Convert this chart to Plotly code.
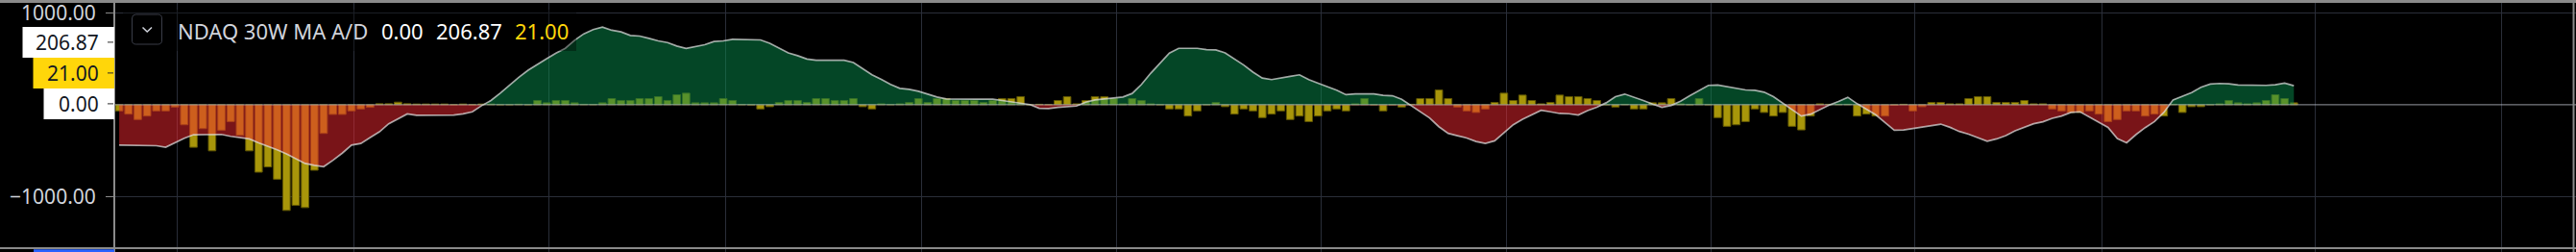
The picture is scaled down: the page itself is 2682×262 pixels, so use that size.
import plotly.graph_objects as go

# ---------------- data ----------------
week_index = list(range(235))

ad_values = [
    -67, -102, -161, -123, -67, -67, -25, -218, -463, -260,
    -502, -277, -183, -333, -502, -734, -677, -811, -1151, -1095,
    -1120, -713, -312, -105, -105, -67, -46, -28, 11, 11,
    28, 11, 8, 8, 8, 8, 0, 8, 0, 8,
    8, 0, 0, 6, 0, 46, 21, 46, 46, 21,
    5, 3, 21, 67, 46, 46, 67, 67, 88, 46,
    109, 126, 21, 21, 21, 67, 46, 2, -2, -46,
    -21, 25, 46, 46, 25, 67, 67, 46, 46, 67,
    -21, -46, 10, 2, 10, 25, 67, 25, 67, 67,
    46, 46, 46, 25, 46, 67, 67, 88, 0, 5,
    0, 46, 88, 10, 46, 88, 88, 67, 10, 67,
    46, 10, 0, -46, -46, -123, -67, 0, 25, -21,
    -102, -46, -67, -140, -102, -67, -161, -123, -183, -123,
    -67, -46, -67, 10, 67, 0, -67, 0, -25, 5,
    67, 67, 161, 67, -25, -67, -84, -46, 25, 126,
    46, 105, 46, 10, 25, 105, 88, 88, 67, 46,
    0, -25, 3, -46, -46, 21, 21, 67, 10, 0,
    67, 0, -140, -235, -218, -183, -46, -84, -123, -84,
    -235, -274, -123, 10, 5, 5, 5, -123, -102, -123,
    -123, -5, 5, -67, -21, 25, 25, 10, 10, 67,
    88, 88, 25, 25, 25, 46, 10, 10, -46, -67,
    -84, -84, -67, -102, -183, -161, -67, -67, -123, -102,
    -123, 5, -84, -21, -21, 0, 10, 46, 21, 10,
    21, 46, 109, 67, 21,
]

ma_values = [
    -439, -439, -439, -439, -446, -463, -414, -365, -326, -323,
    -323, -323, -344, -362, -372, -414, -449, -491, -534, -586,
    -639, -660, -674, -604, -527, -439, -421, -358, -295, -207,
    -154, -100, -115, -115, -115, -115, -112, -100, -77, -10,
    46, 126, 214, 298, 376, 442, 502, 562, 614, 702,
    772, 818, 846, 811, 793, 755, 748, 723, 695, 677,
    639, 614, 632, 653, 688, 695, 713, 713, 713, 706,
    670, 618, 565, 534, 498, 484, 484, 484, 484, 460,
    390, 326, 277, 221, 179, 168, 147, 116, 84, 63,
    63, 63, 63, 63, 60, 46, 32, 18, 2, -39,
    -42, -28, -21, -14, 28, 53, 63, 70, 84, 123,
    221, 344, 456, 562, 614, 614, 614, 600, 597, 565,
    502, 432, 355, 291, 274, 288, 309, 326, 274, 235,
    197, 158, 110, 119, 119, 119, 102, 98, 60, -5,
    -77, -144, -239, -312, -337, -362, -400, -421, -393, -305,
    -218, -158, -112, -60, -77, -95, -98, -112, -63, -28,
    21, 88, 116, 84, 46, 7, -28, -7, 39, 98,
    154, 211, 214, 197, 176, 161, 158, 137, 88, 18,
    -53, -123, -102, -53, -3, 35, 81, 11, -49, -109,
    -193, -277, -274, -260, -246, -228, -211, -246, -291, -320,
    -355, -397, -372, -337, -284, -246, -207, -186, -147, -123,
    -84, -77, -133, -193, -246, -369, -414, -326, -249, -183,
    -84, 53, 91, 133, 190, 225, 232, 228, 214, 211,
    211, 211, 218, 235, 206.87,
]

zero_level = 0.0
indicator_name = "NDAQ 30W MA A/D"
y_tick_values = [1000, -1000]
y_tick_text = ["1000.00", "\u22121000.00"]
grid_weeks = [6.22, 25.24, 46.26, 65.27, 86.32, 107.34, 129.38,
              149.26, 171.24, 193.22, 213.33, 236.26, 256.36]

# ---------------- styling ----------------
W, H = 2682, 262
L_MARGIN = 120
FONT = "Noto Sans"
BAR_COLOR = "rgb(168,150,10)"
BAR_EDGE = "rgb(96,86,4)"
GREEN_FILL = "rgba(8,140,76,0.5)"
RED_FILL = "rgba(242,40,48,0.5)"
MA_LINE = "rgba(225,225,225,0.72)"
GRID = "#2a2e39"
BORDER = "#8a8a8a"
TEXT = "#d1d4dc"
YELLOW = "#ffd60a"


def px2x(p):
    return (p - L_MARGIN) / (W - L_MARGIN)


def py2y(p):
    return 1 - p / H


# split MA into positive / negative fills with exact zero crossings
fx, fy = [], []
for k in range(len(ma_values)):
    if k > 0:
        a, b = ma_values[k - 1], ma_values[k]
        if (a < zero_level < b) or (a > zero_level > b):
            t = (a - zero_level) / (a - b)
            fx.append(week_index[k - 1] + t * (week_index[k] - week_index[k - 1]))
            fy.append(zero_level)
    fx.append(week_index[k])
    fy.append(ma_values[k])
pos_fill = [max(v, zero_level) for v in fy]
neg_fill = [min(v, zero_level) for v in fy]

fig = go.Figure()
fig.add_trace(go.Bar(x=week_index, y=ad_values, marker=dict(color=BAR_COLOR, line=dict(color=BAR_EDGE, width=1)),
                     hoverinfo="skip"))
fig.add_trace(go.Scatter(x=fx, y=pos_fill, mode="lines", fill="tozeroy", fillcolor=GREEN_FILL,
                         line=dict(width=0), hoverinfo="skip"))
fig.add_trace(go.Scatter(x=fx, y=neg_fill, mode="lines", fill="tozeroy", fillcolor=RED_FILL,
                         line=dict(width=0), hoverinfo="skip"))
fig.add_trace(go.Scatter(x=week_index, y=ma_values, mode="lines", line=dict(color=MA_LINE, width=1.7),
                         hoverinfo="skip"))

# axis ranges: zero at ~108.9 px, 95.5 px per 1000
zero_px = 108.9
ppu = 0.0955
y_top = zero_px / ppu
y_bot = -(H - zero_px) / ppu
bar_c0, bar_step = 124.1, 9.676
x_left = (L_MARGIN - bar_c0) / bar_step
x_right = (W - bar_c0) / bar_step

shapes = []
# zero line
shapes.append(dict(type="line", xref="paper", yref="y", x0=0, x1=1, y0=zero_level, y1=zero_level,
                   line=dict(color="rgba(200,205,215,0.75)", width=1), layer="above"))
# legend background (darkens chart under legend row)
shapes.append(dict(type="rect", xref="paper", yref="paper", x0=px2x(128), x1=px2x(600),
                   y0=py2y(53), y1=py2y(10), fillcolor="rgba(0,0,0,0.35)", line=dict(width=0), layer="above"))
# pane borders
shapes.append(dict(type="line", xref="paper", yref="paper", x0=px2x(0), x1=px2x(W), y0=py2y(1.5), y1=py2y(1.5),
                   line=dict(color=BORDER, width=3), layer="above"))
shapes.append(dict(type="line", xref="paper", yref="paper", x0=px2x(0), x1=px2x(W), y0=py2y(258), y1=py2y(258),
                   line=dict(color=BORDER, width=2), layer="above"))
shapes.append(dict(type="line", xref="paper", yref="paper", x0=px2x(2679.5), x1=px2x(2679.5), y0=0, y1=1,
                   line=dict(color=BORDER, width=2), layer="above"))
# blue label stub at bottom-left
shapes.append(dict(type="rect", xref="paper", yref="paper", x0=px2x(35), x1=px2x(119), y0=py2y(262), y1=py2y(259.2),
                   fillcolor="#2962ff", line=dict(width=0), layer="above"))

# chevron button (rounded rect)
bx0, bx1, by0, by1, r = 137.5, 168.5, 15, 46, 4
def P(px, py):
    return f"{px2x(px):.6f},{py2y(py):.6f}"
path = (f"M {P(bx0 + r, by0)} L {P(bx1 - r, by0)} Q {P(bx1, by0)} {P(bx1, by0 + r)} "
        f"L {P(bx1, by1 - r)} Q {P(bx1, by1)} {P(bx1 - r, by1)} L {P(bx0 + r, by1)} "
        f"Q {P(bx0, by1)} {P(bx0, by1 - r)} L {P(bx0, by0 + r)} Q {P(bx0, by0)} {P(bx0 + r, by0)} Z")
shapes.append(dict(type="path", xref="paper", yref="paper", path=path, fillcolor="rgba(0,0,0,0)",
                   line=dict(color="#3a3d48", width=1), layer="above"))
shapes.append(dict(type="path", xref="paper", yref="paper",
                   path=f"M {P(148.5, 28.5)} L {P(153.2, 33)} L {P(158, 28.5)}",
                   line=dict(color=TEXT, width=1.5), layer="above"))

# price-scale value labels (stacked above zero)
last_ma = ma_values[-1]
last_ad = ad_values[-1]
labels = [
    (f"{zero_level:.2f}", "#ffffff", 45.5, -15, 17),
    (f"{last_ad:.2f}", YELLOW, 34.5, 17, 49),
    (f"{last_ma:.2f}", "#ffffff", 23.5, 49, 81),
]
annotations = []
for text, bg, left_px, y0p, y1p in labels:
    shapes.append(dict(type="rect", xref="paper", yref="y", ysizemode="pixel", yanchor=zero_level,
                       x0=px2x(left_px), x1=px2x(119), y0=y0p, y1=y1p, fillcolor=bg, line=dict(width=0),
                       layer="above"))
    mid = (y0p + y1p) / 2
    shapes.append(dict(type="line", xref="paper", yref="y", ysizemode="pixel", yanchor=zero_level,
                       x0=px2x(112), x1=px2x(118), y0=mid, y1=mid,
                       line=dict(color="#2a2a2a", width=1), layer="above"))
    annotations.append(dict(xref="paper", yref="y", x=px2x(104.5), y=zero_level, yshift=mid,
                            xanchor="right", yanchor="middle", text=text, showarrow=False,
                            font=dict(family=FONT, size=21, color="#131722")))

# legend row
legend_items = [
    (indicator_name, TEXT, 183),
    (f"{zero_level:.2f}", "#ffffff", 395),
    (f"{last_ma:.2f}", "#ffffff", 451.5),
    (f"{last_ad:.2f}", YELLOW, 534),
]
for text, col, xpx in legend_items:
    annotations.append(dict(xref="paper", yref="paper", x=px2x(xpx), y=py2y(31.5), xanchor="left",
                            yanchor="middle", text=text, showarrow=False,
                            font=dict(family=FONT, size=22, color=col)))

fig.update_layout(
    width=W, height=H,
    margin=dict(l=L_MARGIN, r=0, t=0, b=0),
    paper_bgcolor="#000000", plot_bgcolor="#000000",
    showlegend=False, bargap=0.2,
    shapes=shapes, annotations=annotations,
    xaxis=dict(range=[x_left, x_right], tickvals=grid_weeks, showticklabels=False, ticks="",
               showgrid=True, gridcolor=GRID, gridwidth=1, zeroline=False, showline=False, fixedrange=True),
    yaxis=dict(range=[y_bot, y_top], tickvals=y_tick_values, ticktext=y_tick_text, ticks="outside",
               ticklen=8, tickwidth=1, tickcolor=BORDER, showline=True, linecolor=BORDER, linewidth=2,
               showgrid=True, gridcolor=GRID, gridwidth=1, zeroline=False, ticklabelstandoff=6,
               ticklabeloverflow="allow",
               tickfont=dict(family=FONT, size=21, color=TEXT), fixedrange=True),
)

fig.write_html("out.html")
